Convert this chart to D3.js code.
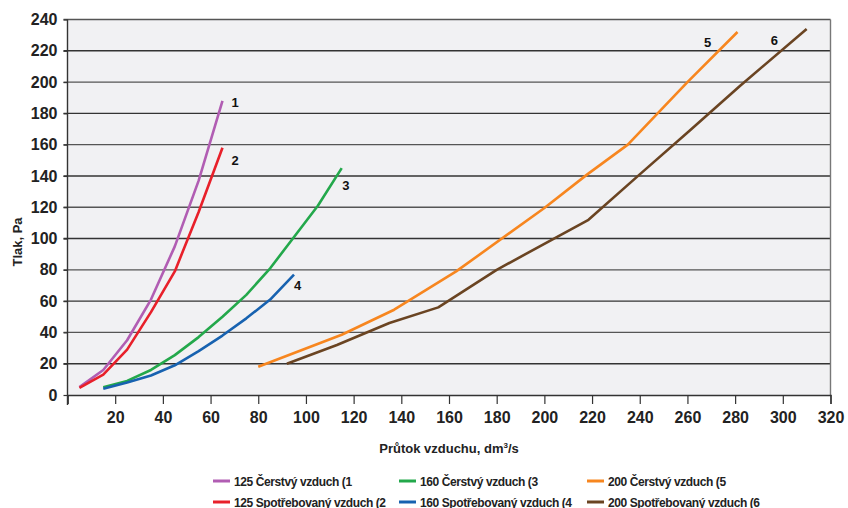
<!DOCTYPE html>
<html><head><meta charset="utf-8">
<script src="https://cdn.jsdelivr.net/npm/d3@7"></script>
<style>
body{margin:0;background:#fff;}
svg{display:block;}
text{font-family:"Liberation Sans",Arial,sans-serif;}
</style></head>
<body>
<script>
// ---- data ----
const seriesNames = ["125 Čerstvý vzduch (1","125 Spotřebovaný vzduch (2","160 Čerstvý vzduch (3","160 Spotřebovaný vzduch (4","200 Čerstvý vzduch (5","200 Spotřebovaný vzduch (6"];
const seriesLabels = ["1","2","3","4","5","6"];
const colors = ["#b15db3","#e8202a","#23a84b","#1762b0","#f7861f","#6a4422"];
const s1x = [5,15,25,35,45,55,65];
const s1y = [5,16,35,61,95,137,188];
const s2x = [5,15,25,35,45,55,65];
const s2y = [4.5,13,29,53,79,117,158];
const s3x = [15,25,35,45,55,65,75,85,95,105,115];
const s3y = [5,9,16,25.5,37,50,64,81,101,121,145];
const s4x = [15,25,35,45,55,65,75,85,95];
const s4y = [4,8,12.5,19,28,38,49,61,77];
const s5x = [80,115,137,163,200,218,235,260,281];
const s5y = [18,38.5,54.5,79,119.5,141,160,200,232];
const s6x = [92,113,135,155.5,180,218.5,240,261,282,310];
const s6y = [20,32,46,56,80,112,141,169,197.5,234];
const xTicks = [0,20,40,60,80,100,120,140,160,180,200,220,240,260,280,300,320];
const yTicks = [0,20,40,60,80,100,120,140,160,180,200,220,240];
const xTitle = "Průtok vzduchu, dm";
const yTitle = "Tlak, Pa";

const seriesX = [s1x,s2x,s3x,s4x,s5x,s6x];
const seriesY = [s1y,s2y,s3y,s4y,s5y,s6y];
// label offsets (relative to end point) in px
const labelDx = [9,9,0.5,0,-33.5,-36];
const labelDy = [6.5,17.5,21.5,15.5,15,16];

const W=848,H=508;
const svg=d3.select("body").append("svg").attr("width",W).attr("height",H);
const x=d3.scaleLinear().domain([0,320]).range([67.5,830.5]);
const y=d3.scaleLinear().domain([0,240]).range([395,19.5]);

// plot background
svg.append("rect").attr("x",x(0)).attr("y",y(240)).attr("width",x(320)-x(0)).attr("height",y(0)-y(240)).attr("fill","#f1f1f3");

// gridlines
svg.append("g").selectAll("line").data(yTicks.filter(d=>d>0)).join("line")
  .attr("x1",x(0)-4).attr("x2",x(320)).attr("y1",d=>y(d)).attr("y2",d=>y(d))
  .attr("stroke",(d,i)=>i%2?"#555":"#333").attr("stroke-width",1.4);
// right border
svg.append("line").attr("x1",x(320)).attr("x2",x(320)).attr("y1",y(240)).attr("y2",y(0)).attr("stroke","#777").attr("stroke-width",1.4);

// x axis
const xAxis=d3.axisBottom(x).tickValues(xTicks).tickSize(9).tickFormat(d=>d===0?"":d);
const gx=svg.append("g").attr("transform",`translate(0,${y(0)})`).call(xAxis);
gx.select(".domain").attr("stroke","#333").attr("stroke-width",1.4);
gx.selectAll(".tick line").attr("stroke","#333").attr("stroke-width",1.2);
gx.selectAll(".tick text").attr("dy","0").attr("y",28).attr("fill","#222")
  .style("font-size","16px").style("font-weight","bold").style("font-family","'Liberation Sans',Arial,sans-serif");

// y axis
const yAxis=d3.axisLeft(y).tickValues(yTicks).tickSize(4).tickPadding(6);
const gy=svg.append("g").attr("transform",`translate(${x(0)},0)`).call(yAxis);
gy.select(".domain").remove();
gy.selectAll(".tick line").attr("stroke","#333").attr("stroke-width",1.2);
gy.selectAll(".tick text").attr("fill","#222")
  .style("font-size","16px").style("font-weight","bold").style("font-family","'Liberation Sans',Arial,sans-serif");
svg.append("line").attr("x1",x(0)).attr("x2",x(0)).attr("y1",y(240)).attr("y2",y(0)+10).attr("stroke","#333").attr("stroke-width",1.4);

// lines
const line=d3.line().x(d=>x(d[0])).y(d=>y(d[1]));
seriesX.forEach((xs,i)=>{
  const pts=xs.map((v,j)=>[v,seriesY[i][j]]);
  svg.append("path").datum(pts).attr("d",line).attr("fill","none")
    .attr("stroke",colors[i]).attr("stroke-width",2.6).attr("stroke-linejoin","round");
  const last=pts[pts.length-1];
  svg.append("text").attr("x",x(last[0])+labelDx[i]).attr("y",y(last[1])+labelDy[i])
    .text(seriesLabels[i]).attr("fill","#111").style("font-size","13px").style("font-weight","bold");
});

// axis titles
const xt=svg.append("text").attr("x",449).attr("y",453).attr("text-anchor","middle")
  .attr("fill","#222").style("font-size","13px").style("font-weight","bold");
xt.append("tspan").text(xTitle);
xt.append("tspan").text("3").attr("dy",-5).style("font-size","8px");
xt.append("tspan").text("/s").attr("dy",5);
svg.append("text").attr("transform","translate(22,242) rotate(-90)").attr("text-anchor","middle")
  .attr("fill","#222").style("font-size","13px").style("font-weight","bold").text(yTitle);

// legend
const colX=[213,399,587];
const rowY=[481,502];
seriesNames.forEach((n,i)=>{
  const c=Math.floor(i/2), r=i%2;
  const g=svg.append("g").attr("transform",`translate(${colX[c]},${rowY[r]})`);
  g.append("line").attr("x1",0).attr("x2",17).attr("y1",0).attr("y2",0).attr("stroke",colors[i]).attr("stroke-width",3);
  g.append("text").attr("x",21).attr("y",4.5).text(n).attr("fill","#222")
    .style("font-size","12px").style("font-weight","bold").style("letter-spacing","-0.4px");
});
</script>
</body></html>
